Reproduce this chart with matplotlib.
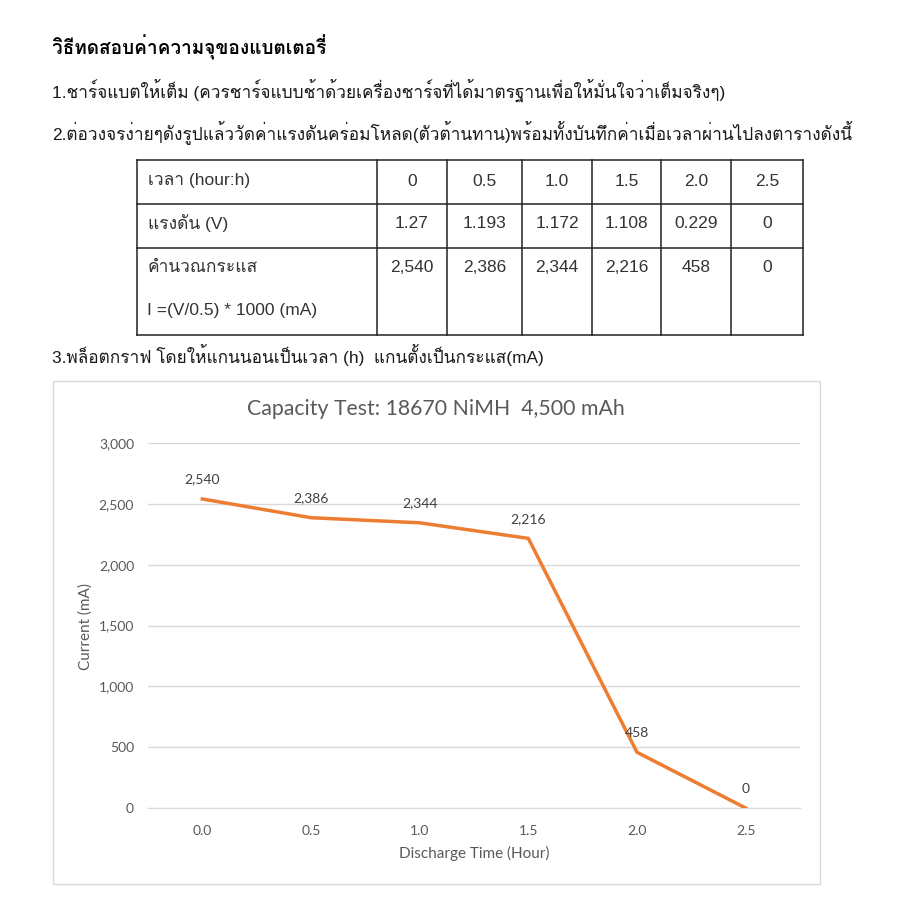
import numpy as np
import matplotlib
matplotlib.use('Agg')
import matplotlib.pyplot as plt
from matplotlib import font_manager
from matplotlib.ft2font import FT2Font

# data
times = [0.0, 0.5, 1.0, 1.5, 2.0, 2.5]
time_labels = ['0', '0.5', '1.0', '1.5', '2.0', '2.5']
voltages = ['1.27', '1.193', '1.172', '1.108', '0.229', '0']
currents = [2540, 2386, 2344, 2216, 458, 0]
yticks = [0, 500, 1000, 1500, 2000, 2500, 3000]

heading = 'วิธีทดสอบค่าความจุของแบตเตอรี่'
step1 = '1.ชาร์จแบตให้เต็ม (ควรชาร์จแบบช้าด้วยเครื่องชาร์จที่ได้มาตรฐานเพื่อให้มั่นใจว่าเต็มจริงๆ)'
step2 = '2.ต่อวงจรง่ายๆดังรูปแล้ววัดค่าแรงดันคร่อมโหลด(ตัวต้านทาน)พร้อมทั้งบันทึกค่าเมื่อเวลาผ่านไปลงตารางดังนี้'
step3 = '3.พล็อตกราฟ โดยให้แกนนอนเป็นเวลา (h)  แกนตั้งเป็นกระแส(mA)'
row_names = ['เวลา (hour:h)', 'แรงดัน (V)', 'คำนวณกระแส']
formula = 'I =(V/0.5) * 1000 (mA)'
chart_title = 'Capacity Test: 18670 NiMH  4,500 mAh'


def find_thai_font():
    # look for any installed font that has Thai glyphs
    for f in font_manager.fontManager.ttflist:
        try:
            if 0x0E01 in FT2Font(f.fname).get_charmap():
                return f.name
        except Exception:
            pass
    return 'DejaVu Sans'


thai_font = find_thai_font()
doc_fonts = ['Liberation Sans', thai_font, 'DejaVu Sans']
W = 915.0
ink = '#1a1a1a'

fig = plt.figure(figsize=(9.15, 9.15), dpi=100)

# page axes in pixel coords
page = fig.add_axes([0, 0, 1, 1])
page.set_xlim(0, W)
page.set_ylim(W, 0)
page.axis('off')

page.text(52, 47, heading, fontsize=13.7, fontweight='bold', family=doc_fonts, va='center', ha='left', color='black')
page.text(52, 90, step1, fontsize=12.4, family=doc_fonts, va='center', ha='left', color=ink)
page.text(52, 132, step2, fontsize=12.4, family=doc_fonts, va='center', ha='left', color=ink)
page.text(52, 355, step3, fontsize=12.4, family=doc_fonts, va='center', ha='left', color=ink)

# table
col_x = [137, 377, 447, 522, 592, 661, 731, 803]
row_y = [160, 204, 248, 335]
for y in row_y:
    page.plot([col_x[0], col_x[-1]], [y, y], color='#222222', lw=1.1)
for x in col_x:
    page.plot([x, x], [row_y[0], row_y[-1]], color='#222222', lw=1.1)

tsize = 12.5
text_y = [181, 223, 268]
for name, y in zip(row_names, text_y):
    page.text(148, y, name, fontsize=tsize, family=doc_fonts, va='center', ha='left', color='#333333')
page.text(147, 311, formula, fontsize=tsize, family=doc_fonts, va='center', ha='left', color='#333333')

rows = [time_labels, voltages, ['{:,}'.format(c) for c in currents]]
for vals, y in zip(rows, text_y):
    for i, v in enumerate(vals):
        cx = (col_x[i + 1] + col_x[i + 2]) / 2
        page.text(cx, y, v, fontsize=tsize, family=doc_fonts, va='center', ha='center', color='#333333')

# chart frame
page.add_patch(plt.Rectangle((53, 381), 767, 503, fill=False, ec='#d9d9d9', lw=1.0))
page.text(436, 409, chart_title, fontsize=15.3, family='Lato', color='#595959', va='center', ha='center')
page.text(86, 627, 'Current (mA)', fontsize=11, family='Lato', color='#595959', va='center', ha='center', rotation=90)
page.text(474, 853, 'Discharge Time (Hour)', fontsize=11, family='Lato', color='#595959', va='center', ha='center')

# chart axes
ax = fig.add_axes([148 / W, 1 - 808 / W, 652 / W, 365 / W])
ax.patch.set_alpha(0)
ax.plot(times, currents, color='#ED7D31', lw=2.5, solid_joinstyle='miter', zorder=3)
for t, c in zip(times, currents):
    ax.annotate('{:,}'.format(c), (t, c), xytext=(0, 14), textcoords='offset points',
                ha='center', va='center', fontsize=10, family='Lato', color='#404040')

ax.set_xlim(-0.25, 2.75)
ax.set_ylim(0, 3000)
ax.set_yticks(yticks)
ax.set_yticklabels(['{:,}'.format(v) for v in yticks])
ax.set_xticks(times)
ax.set_xticklabels(['{:.1f}'.format(t) for t in times])
ax.grid(axis='y', color='#d9d9d9', lw=1.0)
ax.set_axisbelow(True)
for s in ['top', 'right', 'left']:
    ax.spines[s].set_visible(False)
ax.spines['bottom'].set_color('#d9d9d9')
ax.tick_params(length=0, labelsize=10, labelcolor='#595959')
ax.tick_params(axis='y', pad=10)
ax.tick_params(axis='x', pad=12)
for lbl in ax.get_xticklabels() + ax.get_yticklabels():
    lbl.set_family('Lato')

fig.savefig('out.png', dpi=100, facecolor='white')
